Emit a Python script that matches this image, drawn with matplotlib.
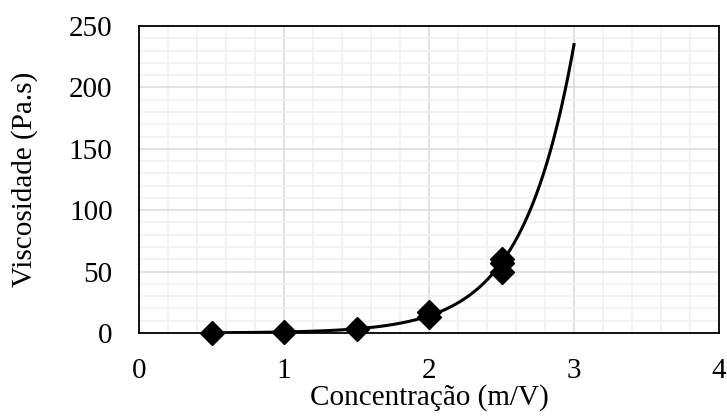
import numpy as np
import matplotlib
matplotlib.use("Agg")
import matplotlib.pyplot as plt
from matplotlib.ticker import MultipleLocator

# dados
conc = np.array([0.5, 1.0, 1.5, 2.0, 2.0, 2.5, 2.5, 2.5])
visc = np.array([0.2, 0.8, 3.5, 13.0, 17.0, 50.0, 57.0, 60.0])

# linha de tendencia exponencial (ajuste em log), estendida ate 3
b, ln_a = np.polyfit(conc, np.log(visc), 1)
x_fit = np.linspace(0.5, 3.0, 200)
y_fit = np.exp(ln_a) * np.exp(b * x_fit)

plt.rcParams['font.family'] = ['Liberation Serif', 'DejaVu Serif']

fig = plt.figure(figsize=(7.27, 4.17), dpi=100)
ax = fig.add_axes([139 / 727, 1 - 333 / 417, 580 / 727, 307 / 417])

ax.plot(x_fit, y_fit, color='black', linewidth=2.2, zorder=3)
ax.plot(conc, visc, linestyle='none', marker='D', markersize=12,
        color='black', zorder=4, clip_on=False)

ax.set_xlim(0, 4)
ax.set_ylim(0, 250)
ax.xaxis.set_major_locator(MultipleLocator(1))
ax.xaxis.set_minor_locator(MultipleLocator(0.2))
ax.yaxis.set_major_locator(MultipleLocator(50))
ax.yaxis.set_minor_locator(MultipleLocator(10))
ax.grid(which='major', color='#d9d9d9', linewidth=1.1)
ax.grid(which='minor', color='#f0f0f0', linewidth=1.1)
ax.set_axisbelow(True)
ax.tick_params(which='both', length=0, labelsize=21)
ax.tick_params(axis='x', pad=18)
ax.tick_params(axis='y', pad=19)

for s in ax.spines.values():
    s.set_color('black')
    s.set_linewidth(1.3)

ax.set_xlabel('Concentração (m/V)', fontsize=21, labelpad=0)
ax.set_ylabel('Viscosidade (Pa.s)', fontsize=21, labelpad=22)

fig.savefig('out.png', dpi=100)
